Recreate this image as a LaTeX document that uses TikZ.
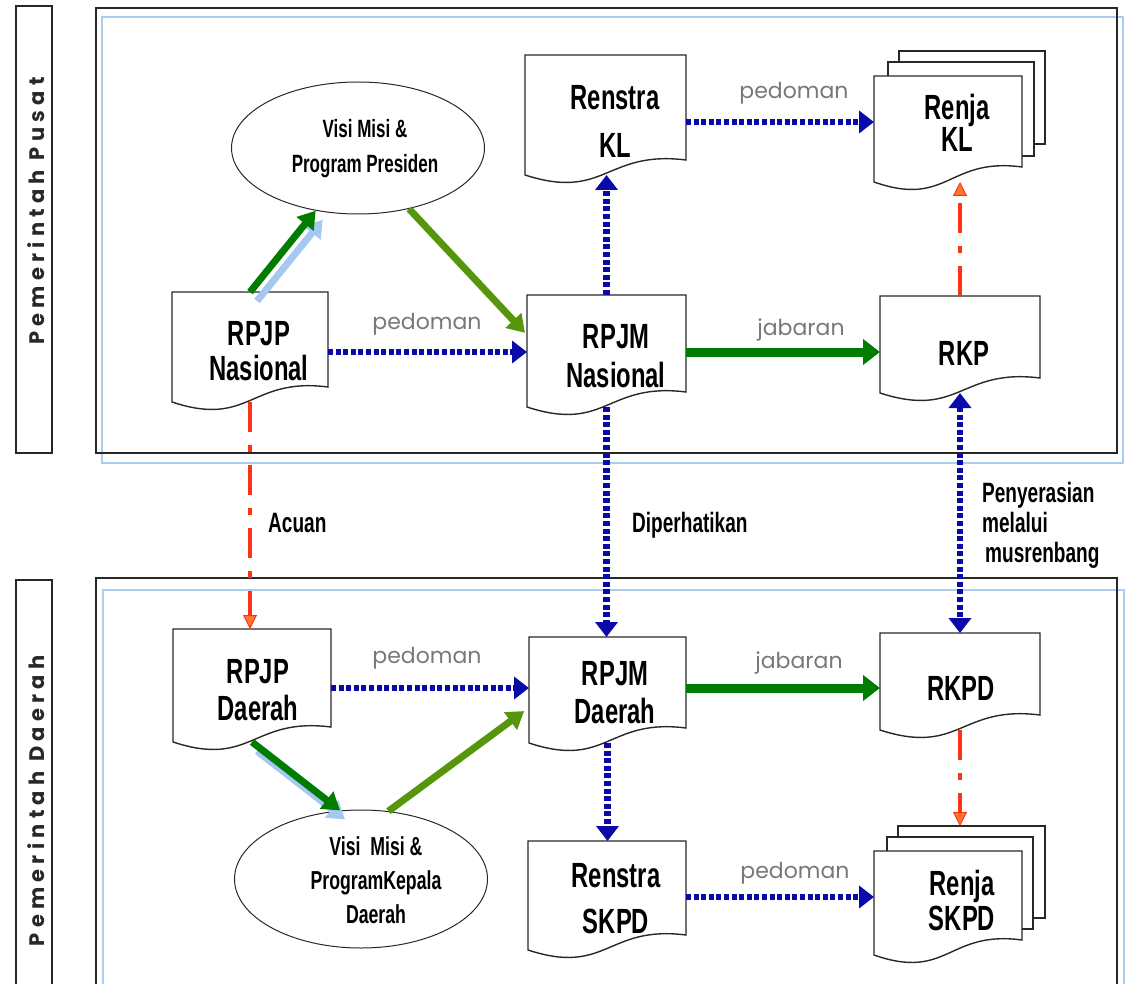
\documentclass[tikz,border=0pt]{standalone}
\usepackage{fontspec}
\setmainfont{Liberation Sans}
\newfontfamily\nar[FakeStretch=0.68]{Liberation Sans}
\newfontfamily\geo{Poppins}
\usetikzlibrary{arrows.meta,fit,shapes.geometric}
\definecolor{dblue}{RGB}{10,10,170}
\definecolor{dgreen}{RGB}{0,125,0}
\definecolor{ogreen}{RGB}{85,150,10}
\definecolor{shadowblue}{RGB}{165,200,240}
\definecolor{frameblue}{RGB}{170,205,240}
\definecolor{rred}{RGB}{255,50,20}
\definecolor{rorange}{RGB}{255,120,50}
\definecolor{lgray}{RGB}{120,120,120}
\definecolor{edge}{RGB}{40,40,40}
\tikzset{
  docfit/.style={inner sep=0pt, outer sep=0pt, draw=none},
  docline/.style={draw=edge, line width=1.4pt, fill=white},
  pagebox/.style={inner sep=0pt, outer sep=0pt, draw=edge, line width=1.4pt, fill=white},
  ntext/.style={font=\fontsize{35}{#1}\selectfont\nar\bfseries, align=center, inner sep=0pt, anchor=base},
  ntext/.default=35,
  etext/.style={font=\fontsize{25}{#1}\selectfont\nar\bfseries, align=center, inner sep=0pt, anchor=base},
  ltext/.style={font=\fontsize{28}{30}\selectfont\nar\bfseries, align=left, inner sep=0pt, anchor=base west},
  ptext/.style={font=\fontsize{22}{22}\selectfont\geo, text=lgray, inner sep=0pt, anchor=base},
  sidetext/.style={rotate=90, font=\fontsize{21}{21}\selectfont\geo\bfseries\addfontfeatures{LetterSpace=25}, inner sep=0pt, text=edge},
  ell/.style={ellipse, draw=edge, line width=1pt, inner sep=0pt},
  bluearrow/.style={draw=dblue, line width=6.5pt, dash pattern=on 5pt off 2.6pt, -{Triangle[length=15pt,width=22pt]}},
  bluedouble/.style={draw=dblue, line width=6.5pt, dash pattern=on 5pt off 2.6pt, {Triangle[length=15pt,width=22pt]}-{Triangle[length=15pt,width=22pt]}},
  greenarrow/.style={draw=dgreen, line width=9pt, -{Triangle[length=17pt,width=25pt]}},
  diagdark/.style={draw=dgreen, line width=7pt, -{Triangle[length=17pt,width=21pt]}},
  diagolive/.style={draw=ogreen, line width=7pt, -{Triangle[length=17pt,width=21pt]}},
  diagshadow/.style={draw=shadowblue, line width=7pt, -{Triangle[length=17pt,width=21pt]}},
  redarrow/.style={draw=rred, line width=3.5pt, dash pattern=on 30pt off 13pt on 7pt off 13pt, -{Triangle[length=14pt,width=14pt,line width=1pt,fill=rorange]}},
}
\newcommand\docshape[5]{%
  \node[docfit, fit={(#2,#3) (#4,#5)}] (#1) {};
  \pgfmathsetmacro\hw{(#4-#2)/2}%
  \filldraw[docline] (#1.south east) -- (#1.north east) -- (#1.north west) -- ([yshift=-15pt]#1.south west)
    .. controls ([xshift=\hw pt, yshift=-41pt]#1.south west) and ([xshift=-\hw pt, yshift=10pt]#1.south east) .. (#1.south east) -- cycle;
  \coordinate (#1-w) at ([yshift=-15pt]#1.south);
}
\begin{document}
\begin{tikzpicture}[x=1pt,y=-1pt]
\useasboundingbox (0,0) rectangle (1143,984);
% frames
\draw[frameblue, line width=2pt] (102,17) rectangle (1123,463);
\draw[edge, line width=1.8pt] (96,8) rectangle (1117,453);
\draw[frameblue, line width=2pt] (103,984) -- (103,590) -- (1124,590) -- (1124,984);
\draw[edge, line width=1.8pt] (96,984) -- (96,578) -- (1117,578) -- (1117,984);
\draw[edge, line width=1.8pt] (16,6) rectangle (52,453);
\draw[edge, line width=1.8pt] (16,984) -- (16,580) -- (52,580) -- (52,984);
\node[sidetext] (lblpusat) at (36,211) {Pemerintah Pusat};
\node[sidetext] (lbldaerah) at (36,801) {Pemerintah Daerah};

% ellipses
\node[ell, minimum width=253pt, minimum height=132pt] (visi) at (358,148) {};
\node[ell, minimum width=253pt, minimum height=138pt] (visik) at (361,879) {};

% documents
\docshape{rpjpn}{172}{292}{328}{387}
\docshape{rpjmn}{527}{295}{686}{392}
\docshape{rkp}{880}{296}{1040}{378}
\docshape{renstrakl}{525}{55}{686}{160}
\node[pagebox, fit={(899,51) (1045,144)}] (renjakl3) {};
\node[pagebox, fit={(888,62) (1034,156)}] (renjakl2) {};
\docshape{renjakl}{874}{76}{1022}{167}
\docshape{rpjpd}{173}{629}{331}{727}
\docshape{rpjmd}{529}{637}{686}{728}
\docshape{rkpd}{880}{633}{1040}{715}
\docshape{renstraskpd}{528}{841}{686}{935}
\node[pagebox, fit={(898,826) (1045,918)}] (renjaskpd3) {};
\node[pagebox, fit={(887,837) (1033,929)}] (renjaskpd2) {};
\docshape{renjaskpd}{874}{851}{1022}{940}

% connectors: blue dotted
\draw[bluearrow] ([yshift=-12.5pt]rpjpn.east) -- ([yshift=-12.5pt]rpjpn.east -| rpjmn.west);
\draw[bluearrow] ([yshift=-14.5pt]renstrakl.east) -- ([yshift=-14.5pt]renstrakl.east -| renjakl.west);
\draw[bluearrow] (rpjmn.north) -- (rpjmn.north |- renstrakl-w);
\draw[bluearrow] (rpjmn-w) -- (rpjmn-w |- rpjmd.north);
\draw[bluedouble] (rkp-w) -- (rkp-w |- rkpd.north);
\draw[bluearrow] ([yshift=-10pt]rpjpd.east) -- ([yshift=-10pt]rpjpd.east -| rpjmd.west);
\draw[bluearrow] (rpjmd-w) -- (rpjmd-w |- renstraskpd.north);
\draw[bluearrow] ([yshift=-9pt]renstraskpd.east) -- ([yshift=-9pt]renstraskpd.east -| renjaskpd.west);

% green
\draw[greenarrow] ([yshift=-8.5pt]rpjmn.east) -- ([yshift=-8.5pt]rpjmn.east -| rkp.west);
\draw[greenarrow] ([yshift=-5.5pt]rpjmd.east) -- ([yshift=-5.5pt]rpjmd.east -| rkpd.west);
\draw[diagshadow, transform canvas={xshift=7pt,yshift=-9pt}] (rpjpn.north) -- (visi.236);
\draw[diagdark] (rpjpn.north) -- (visi.236);
\draw[diagolive, shorten >=3pt] (visi.-50) -- ([yshift=-40pt]rpjmn.north west);
\draw[diagshadow, transform canvas={xshift=5pt,yshift=-9pt}] (rpjpd-w) -- (visik.107);
\draw[diagdark] (rpjpd-w) -- (visik.107);
\draw[diagolive, shorten >=6pt] (visik.68) -- ([yshift=-25pt]rpjmd.west);

% red
\draw[redarrow] (rpjpn-w) -- (rpjpn-w |- rpjpd.north);
\draw[redarrow] (rkp.north) -- (rkp.north |- renjakl-w);
\draw[redarrow] (rkpd-w) -- (rkpd-w |- renjaskpd3.north);

% texts (anchor base = baseline of last line)
\node[etext=35] (visi-t) at (365,173) {Visi Misi \&\\Program Presiden};
\node[etext=34, font=\fontsize{26}{34}\selectfont\nar\bfseries] (visik-t) at (376,923) {Visi\ \ Misi \&\\ProgramKepala\\Daerah};
\node[ntext] (rpjpn-t) at (259,380) {RPJP\\Nasional};
\node[ntext=39] (rpjmn-t) at (616,387) {RPJM\\Nasional};
\node[ntext] (rkp-t) at (964,365) {RKP};
\node[ntext=48] (renstrakl-t) at (615,158) {Renstra\\KL};
\node[ntext=30] (renjakl-t) at (957,152) {Renja\\KL};
\node[ntext=37] (rpjpd-t) at (258,720) {RPJP\\Daerah};
\node[ntext=38] (rpjmd-t) at (615,723) {RPJM\\Daerah};
\node[ntext] (rkpd-t) at (961,700) {RKPD};
\node[ntext=46] (renstraskpd-t) at (616,933) {Renstra\\SKPD};
\node[ntext=35] (renjaskpd-t) at (962,930) {Renja\\SKPD};

% labels
\node[ptext] (ped1) at (427,330) {pedoman};
\node[ptext] (jab1) at (801,335) {jabaran};
\node[ptext] (ped2) at (794,99) {pedoman};
\node[ptext] (ped3) at (427,663) {pedoman};
\node[ptext] (jab2) at (799,668) {jabaran};
\node[ptext] (ped4) at (795,878) {pedoman};
\node[ltext] (acuan) at (268,532) {Acuan};
\node[ltext] (diper) at (632,532) {Diperhatikan};
\node[ltext] (penyer) at (982,562) {Penyerasian\\melalui\\\hspace{3pt}musrenbang};
\end{tikzpicture}
\end{document}
